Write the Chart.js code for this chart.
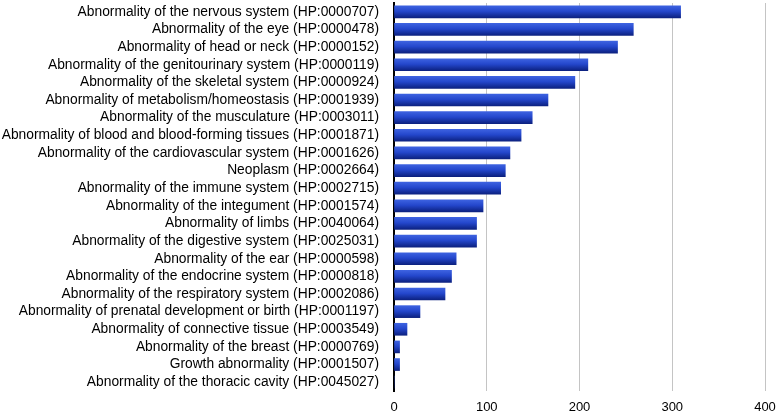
<!DOCTYPE html>
<html>
<head>
<meta charset="utf-8">
<script src="https://cdn.jsdelivr.net/npm/chart.js@4"></script>
<style>
  html, body { margin: 0; padding: 0; background: #fff; }
  #wrap { width: 777px; height: 411px; }
</style>
</head>
<body>
<div id="wrap"><canvas id="myChart" width="777" height="411"></canvas></div>
<script>
// phenotype categories, top to bottom
var categories = [
  'Abnormality of the nervous system (HP:0000707)',
  'Abnormality of the eye (HP:0000478)',
  'Abnormality of head or neck (HP:0000152)',
  'Abnormality of the genitourinary system (HP:0000119)',
  'Abnormality of the skeletal system (HP:0000924)',
  'Abnormality of metabolism/homeostasis (HP:0001939)',
  'Abnormality of the musculature (HP:0003011)',
  'Abnormality of blood and blood-forming tissues (HP:0001871)',
  'Abnormality of the cardiovascular system (HP:0001626)',
  'Neoplasm (HP:0002664)',
  'Abnormality of the immune system (HP:0002715)',
  'Abnormality of the integument (HP:0001574)',
  'Abnormality of limbs (HP:0040064)',
  'Abnormality of the digestive system (HP:0025031)',
  'Abnormality of the ear (HP:0000598)',
  'Abnormality of the endocrine system (HP:0000818)',
  'Abnormality of the respiratory system (HP:0002086)',
  'Abnormality of prenatal development or birth (HP:0001197)',
  'Abnormality of connective tissue (HP:0003549)',
  'Abnormality of the breast (HP:0000769)',
  'Growth abnormality (HP:0001507)',
  'Abnormality of the thoracic cavity (HP:0045027)'
]
var counts = [309, 258, 241, 209, 195, 166, 149, 137, 125, 120, 115, 96, 89, 89, 67, 62, 55, 28, 14, 6, 6, 0]
var xTicks = [0, 100, 200, 300, 400]

const BAR_H = 12

function barGradient(context) {
  var chart = context.chart
  var yScale = chart.scales.y
  if (!yScale || context.dataIndex === undefined) return '#1f3fc2'
  var yc = yScale.getPixelForValue(context.dataIndex)
  if (!isFinite(yc)) return '#1f3fc2'
  var g = chart.ctx.createLinearGradient(0, yc - BAR_H / 2, 0, yc + BAR_H / 2)
  g.addColorStop(0, '#3d62e0')
  g.addColorStop(0.45, '#2447cc')
  g.addColorStop(1, '#0c2180')
  return g
}

const ctx = document.getElementById('myChart')
const myChart = new Chart(ctx, {
  type: 'bar',
  data: {
    labels: categories,
    datasets: [{
      data: counts,
      backgroundColor: barGradient,
      borderWidth: 0,
      barThickness: BAR_H
    }]
  },
  options: {
    indexAxis: 'y',
    responsive: false,
    animation: false,
    layout: { padding: { top: 3, right: 12, bottom: 0, left: 0 } },
    plugins: { legend: { display: false }, tooltip: { enabled: false } },
    scales: {
      x: {
        min: 0,
        max: 400,
        afterBuildTicks: function (scale) {
          scale.ticks = xTicks.map(function (v) { return { value: v } })
        },
        afterFit: function (scale) {
          scale.height = 20
          scale.paddingLeft = 0
          scale.paddingRight = 0
        },
        grid: {
          color: function (c) { return c.tick && c.tick.value === 0 ? 'rgba(0,0,0,0)' : '#c4c4c4' },
          drawTicks: false
        },
        border: { display: false },
        ticks: {
          color: '#000',
          padding: 9,
          font: { family: 'Liberation Sans', size: 13 }
        }
      },
      y: {
        afterFit: function (scale) {
          scale.width = 394
          scale.paddingTop = 0
          scale.paddingBottom = 0
        },
        grid: { display: false, drawTicks: false },
        border: { display: true, color: '#000', width: 2 },
        ticks: {
          color: '#000',
          padding: 15,
          autoSkip: false,
          font: { family: 'Liberation Sans', size: 13.8 }
        }
      }
    }
  }
})
</script>
</body>
</html>
